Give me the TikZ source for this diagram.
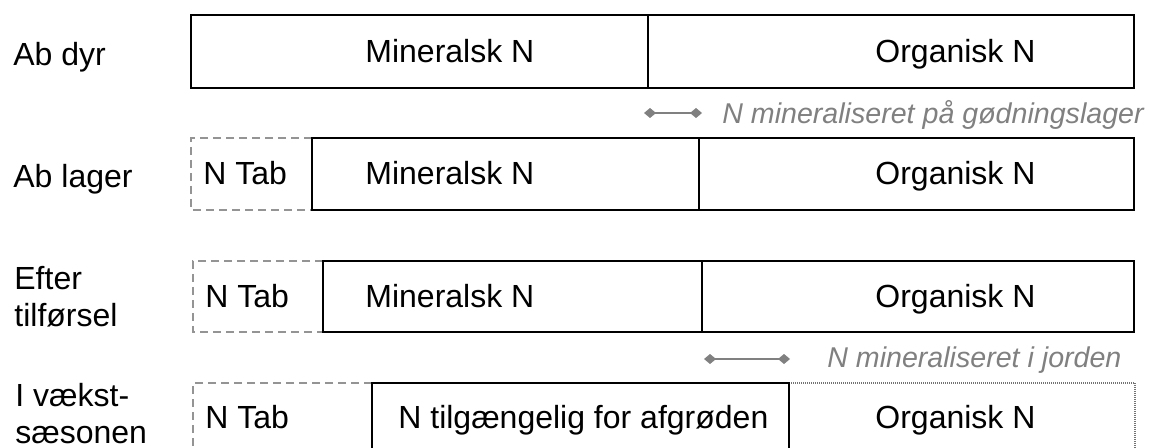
\documentclass[tikz,border=0pt]{standalone}
\usepackage{fontspec}
\setmainfont{Liberation Sans}
\usetikzlibrary{arrows.meta}
\begin{document}
\begin{tikzpicture}[x=0.5pt,y=-0.5pt,
  solidbox/.style={draw=black,line width=1.2pt},
  tabbox/.style={draw=black!42,line width=1pt,dash pattern=on 4pt off 2.5pt},
  dotbox/.style={draw=black!55,line width=1pt,dash pattern=on 0.5pt off 0.5pt},
  lbl/.style={anchor=base west,inner sep=0pt,font=\fontsize{16}{18.4}\selectfont},
  rowlbl/.style={anchor=north west,inner sep=0pt,align=left,font=\fontsize{16}{18.4}\selectfont},
  note/.style={anchor=base west,inner sep=0pt,text=black!50,font=\fontsize{14.3}{16}\selectfont\itshape},
  span/.style={draw=black!50,line width=1.3pt,{Diamond[length=6pt,width=5pt]}-{Diamond[length=6pt,width=5pt]}}]
\useasboundingbox (0,0) rectangle (1149,448);
\clip (0,0) rectangle (1149,448);
\fill[white] (0,0) rectangle (1149,448);

% row labels
\node[rowlbl] (r1) at (13,42) {Ab dyr};
\node[rowlbl] (r2) at (13,164) {Ab lager};
\node[rowlbl] (r3) at (14,266) {Efter\\tilførsel};
\node[rowlbl] (r4) at (15,383) {I vækst-\\sæsonen};

% row 1
\draw[solidbox] (191,15) rectangle (1134,88);
\draw[solidbox] (648,15) -- (648,88);
\node[lbl] (m1) at (365,63) {Mineralsk N};
\node[lbl] (o1) at (875,63) {Organisk N};

% annotation 1
\coordinate (a1s) at (644,113);
\coordinate (a1e) at (702,113);
\draw[span] (a1s) -- (a1e);
\node[note] (n1) at (722,124) {N mineraliseret på gødningslager};

% row 2
\draw[tabbox] (312,138) -- (191,138) -- (191,210) -- (312,210);
\draw[solidbox] (312,138) rectangle (1134,210);
\draw[solidbox] (699,138) -- (699,210);
\node[lbl] (t2) at (203,185) {N Tab};
\node[lbl] (m2) at (365,185) {Mineralsk N};
\node[lbl] (o2) at (875,185) {Organisk N};

% row 3
\draw[tabbox] (323,261) -- (193,261) -- (193,332) -- (323,332);
\draw[solidbox] (323,261) rectangle (1134,332);
\draw[solidbox] (702,261) -- (702,332);
\node[lbl] (t3) at (205,307) {N Tab};
\node[lbl] (m3) at (365,307) {Mineralsk N};
\node[lbl] (o3) at (875,307) {Organisk N};

% annotation 2
\coordinate (a2s) at (704,359);
\coordinate (a2e) at (790,359);
\draw[span] (a2s) -- (a2e);
\node[note] (n2) at (827,367) {N mineraliseret i jorden};

% row 4
\draw[tabbox] (372,383) -- (193,383) -- (193,460);
\draw[dotbox] (789,383) -- (1135,383) -- (1135,460);
\draw[solidbox] (372,460) -- (372,383) -- (789,383) -- (789,460);
\node[lbl] (t4) at (205,428) {N Tab};
\node[lbl] (g4) at (398,428) {N tilgængelig for afgrøden};
\node[lbl] (o4) at (875,428) {Organisk N};
\end{tikzpicture}
\end{document}
